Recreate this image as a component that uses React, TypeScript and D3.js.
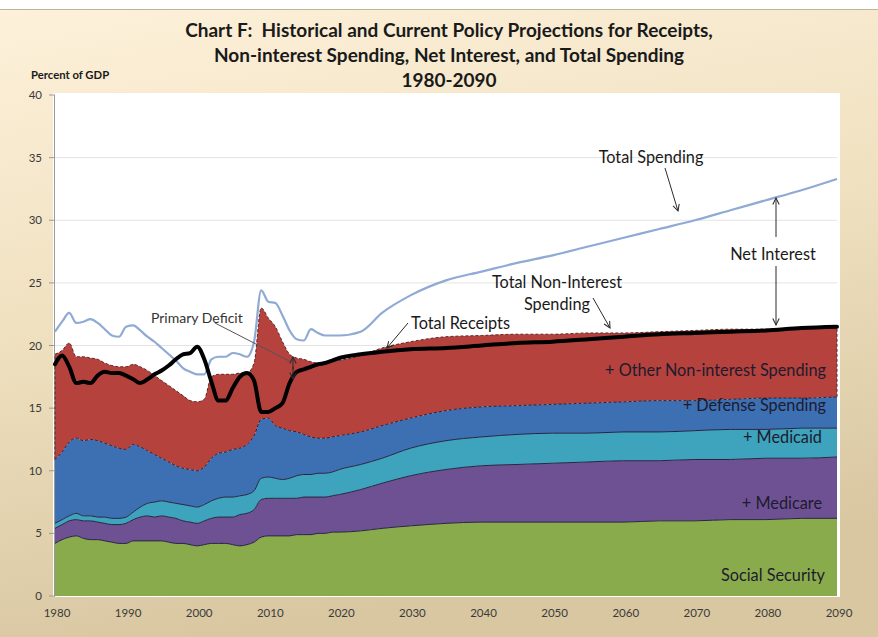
import React from 'react';
import * as d3 from 'd3';

// ---------- data (percent of GDP) ----------
const years = [
  1980, 1981, 1982, 1983, 1984, 1985, 1986, 1987, 1988, 1989,
  1990, 1991, 1992, 1993, 1994, 1995, 1996, 1997, 1998, 1999,
  2000, 2001, 2002, 2003, 2004, 2005, 2006, 2007, 2008, 2009,
  2010, 2011, 2012, 2013, 2014, 2015, 2016, 2017, 2018, 2019,
  2020, 2023, 2026, 2030, 2035, 2040, 2045, 2050, 2055, 2060,
  2065, 2070, 2075, 2080, 2085, 2090,
];
const socialSecurity = [
  4.2, 4.5, 4.7, 4.8, 4.6, 4.5, 4.5, 4.4, 4.3, 4.2,
  4.2, 4.4, 4.4, 4.4, 4.4, 4.4, 4.3, 4.2, 4.2, 4.1,
  4.0, 4.1, 4.2, 4.2, 4.2, 4.1, 4.0, 4.1, 4.3, 4.7,
  4.8, 4.8, 4.8, 4.8, 4.9, 4.9, 4.9, 5.0, 5.0, 5.1,
  5.1, 5.2, 5.4, 5.6, 5.8, 5.9, 5.9, 5.9, 5.9, 5.9,
  6.0, 6.0, 6.1, 6.1, 6.2, 6.2,
];
const medicare = [
  1.2, 1.2, 1.3, 1.3, 1.4, 1.5, 1.4, 1.4, 1.4, 1.5,
  1.6, 1.7, 1.9, 2.0, 1.9, 2.0, 2.0, 2.0, 1.8, 1.8,
  1.8, 1.9, 2.0, 2.1, 2.1, 2.2, 2.5, 2.5, 2.6, 3.0,
  3.0, 3.0, 3.0, 3.0, 2.9, 3.0, 3.0, 2.9, 2.9, 2.9,
  3.0, 3.3, 3.6, 4.0, 4.3, 4.5, 4.6, 4.7, 4.8, 4.9,
  4.8, 4.9, 4.8, 4.9, 4.8, 4.9,
];
const medicaid = [
  0.4, 0.4, 0.4, 0.5, 0.4, 0.4, 0.4, 0.5, 0.5, 0.5,
  0.5, 0.6, 0.8, 1.0, 1.2, 1.2, 1.2, 1.2, 1.3, 1.3,
  1.3, 1.3, 1.4, 1.5, 1.6, 1.6, 1.5, 1.5, 1.5, 1.7,
  1.7, 1.6, 1.5, 1.6, 1.8, 1.8, 1.8, 1.9, 1.9, 1.9,
  2.0, 2.0, 2.0, 2.2, 2.3, 2.3, 2.4, 2.4, 2.3, 2.3,
  2.3, 2.3, 2.4, 2.3, 2.4, 2.3,
];
const defense = [
  5.1, 5.4, 5.9, 6.0, 6.0, 6.1, 6.1, 5.9, 5.8, 5.6,
  5.4, 5.4, 4.8, 4.2, 3.8, 3.4, 3.2, 3.0, 2.9, 2.9,
  2.9, 3.0, 3.4, 3.6, 3.6, 3.8, 3.8, 4.0, 4.4, 4.7,
  4.7, 4.2, 4.1, 3.8, 3.5, 3.2, 3.0, 2.8, 2.8, 2.8,
  2.7, 2.6, 2.6, 2.4, 2.4, 2.4, 2.3, 2.3, 2.4, 2.4,
  2.5, 2.4, 2.4, 2.5, 2.4, 2.5,
];
const otherNonInterest = [
  8.4, 8.1, 7.9, 6.5, 6.7, 6.5, 6.5, 6.4, 6.4, 6.5,
  6.6, 6.4, 6.4, 6.4, 6.3, 6.2, 6.1, 6.0, 5.8, 5.5,
  5.5, 5.4, 6.5, 6.3, 6.2, 6.0, 6.0, 5.7, 5.8, 8.9,
  8.0, 7.9, 6.9, 6.1, 5.9, 6.0, 6.0, 6.0, 6.0, 6.0,
  6.0, 6.1, 6.2, 6.1, 5.9, 5.7, 5.7, 5.6, 5.6, 5.5,
  5.5, 5.6, 5.6, 5.5, 5.6, 5.6,
];
const receipts = [
  18.5, 19.2, 18.3, 17.0, 17.1, 17.0, 17.6, 17.9, 17.8, 17.8,
  17.6, 17.3, 17.0, 17.3, 17.7, 18.0, 18.4, 18.9, 19.3, 19.4,
  19.9, 18.9, 17.1, 15.6, 15.6, 16.6, 17.5, 17.8, 17.2, 14.7,
  14.7, 15.0, 15.4, 17.0, 17.9, 18.1, 18.3, 18.5, 18.6, 18.8,
  19.0, 19.3, 19.5, 19.7, 19.8, 20.0, 20.2, 20.3, 20.5, 20.7,
  20.9, 21.0, 21.1, 21.2, 21.4, 21.5,
];
const totalSpending = [
  21.1, 21.9, 22.6, 21.8, 21.9, 22.1, 21.8, 21.3, 20.8, 20.7,
  21.5, 21.6, 21.2, 20.7, 20.3, 19.8, 19.3, 18.8, 18.2, 17.9,
  17.7, 17.7, 18.9, 19.1, 19.1, 19.4, 19.3, 19.1, 20.3, 24.4,
  23.5, 23.4, 22.4, 21.2, 20.5, 20.4, 21.3, 21.0, 20.8, 20.8,
  20.8, 21.1, 22.6, 24.0, 25.2, 25.9, 26.6, 27.2, 27.9, 28.6,
  29.3, 30.0, 30.8, 31.6, 32.4, 33.3,
];
const yTicks = [0, 5, 10, 15, 20, 25, 30, 35, 40];
const xTicks = [1980, 1990, 2000, 2010, 2020, 2030, 2040, 2050, 2060, 2070, 2080, 2090];
const titleLines = [
  'Chart F:\u00A0 Historical and Current Policy Projections for Receipts,',
  'Non-interest Spending, Net Interest, and Total Spending',
  '1980-2090',
];

const W = 878;
const H = 637;
const FONT = "Lato, 'Open Sans', 'DejaVu Sans', sans-serif";

const layerKeys = ['ss', 'medicare', 'medicaid', 'defense', 'other'];
const layerColors: Record<string, string> = {
  ss: '#8aab4c',
  medicare: '#6e5193',
  medicaid: '#3ea3bc',
  defense: '#3d6fb3',
  other: '#b5423d',
};

export default function App() {
  const x = d3.scaleLinear().domain([1980, 2090]).range([55, 837]);
  const y = d3.scaleLinear().domain([0, 40]).range([596, 95]);

  const rows = years.map((yr, i) => ({
    year: yr,
    ss: socialSecurity[i],
    medicare: medicare[i],
    medicaid: medicaid[i],
    defense: defense[i],
    other: otherNonInterest[i],
  }));
  const series = d3.stack<any>().keys(layerKeys)(rows);
  const curve = d3.curveMonotoneX;
  const area = d3
    .area<any>()
    .x((d) => x(d.data.year))
    .y0((d) => y(d[0]))
    .y1((d) => y(d[1]))
    .curve(curve);
  const topLine = d3
    .line<any>()
    .x((d) => x(d.data.year))
    .y((d) => y(d[1]))
    .curve(curve);
  const line = d3
    .line<number>()
    .x((_, i) => x(years[i]))
    .y((d) => y(d))
    .curve(curve);

  const labelColor = '#1d1b2e';
  const annColor = '#2b2b2b';

  return (
    <svg
      width={W}
      height={H}
      viewBox={`0 0 ${W} ${H}`}
      style={{ position: 'absolute', left: 0, top: 0, fontFamily: FONT }}
    >
      <defs>
        <linearGradient id="bg" x1="0" y1="0" x2="0.25" y2="1">
          <stop offset="0" stopColor="#fdf1da" />
          <stop offset="0.5" stopColor="#efe0bf" />
          <stop offset="1" stopColor="#d8c7a1" />
        </linearGradient>
        <marker
          id="arr"
          viewBox="0 0 10 10"
          refX="9"
          refY="5"
          markerWidth="8"
          markerHeight="8"
          markerUnits="userSpaceOnUse"
          orient="auto"
        >
          <path d="M1,1 L9,5 L1,9" fill="none" stroke={annColor} strokeWidth="1.3" />
        </marker>
      </defs>
      <rect x={0} y={0} width={W} height={H} fill="#ffffff" />
      <rect x={0} y={9} width={W} height={H - 9} fill="url(#bg)" />
      <line x1={0} x2={W} y1={9.5} y2={9.5} stroke="#bdb4a0" strokeWidth={1} />

      {/* title */}
      {titleLines.map((t, i) => (
        <text
          key={i}
          x={449}
          y={37 + i * 25}
          textAnchor="middle"
          fontWeight="bold"
          fontSize={19}
          fill="#1a1a1a"
        >
          {t}
        </text>
      ))}
      <text x={31} y={79} fontWeight="bold" fontSize={11.3} fill="#1a1a1a">
        Percent of GDP
      </text>

      {/* plot area */}
      <rect x={53} y={93} width={787} height={504} fill="#ffffff" />
      {yTicks.map((t) => (
        <g key={t}>
          {t > 0 && t < 40 && (
            <line x1={55} x2={837} y1={y(t)} y2={y(t)} stroke="#e4e4e4" strokeWidth={1} />
          )}
          <line x1={49} x2={55} y1={y(t)} y2={y(t)} stroke="#9a9a9a" strokeWidth={1} />
          <text
            x={42}
            y={y(t)}
            dy="0.35em"
            textAnchor="end"
            fontSize={11.5}
            fill="#3a3a3a"
          >
            {t}
          </text>
        </g>
      ))}
      <line x1={54.5} x2={54.5} y1={95} y2={597} stroke="#9a9a9a" strokeWidth={1} />

      {/* stacked areas */}
      {series.map((s) => (
        <path key={s.key} d={area(s) || ''} fill={layerColors[s.key]} />
      ))}
      {series.map((s) => {
        const dashed = s.key === 'defense' || s.key === 'other';
        return (
          <path
            key={'b' + s.key}
            d={topLine(s) || ''}
            fill="none"
            stroke={s.key === 'other' ? '#5a2a2a' : '#262640'}
            strokeWidth={1}
            strokeDasharray={dashed ? '3,2' : undefined}
          />
        );
      })}
      {/* dashed outline on sides of the red layer */}
      {(() => {
        const red = series[series.length - 1];
        const first = red[0];
        const last = red[red.length - 1];
        return (
          <g stroke="#5a2a2a" strokeWidth={1} strokeDasharray="3,2">
            <line x1={x(first.data.year)} x2={x(first.data.year)} y1={y(first[0])} y2={y(first[1])} />
            <line x1={x(last.data.year)} x2={x(last.data.year)} y1={y(last[0])} y2={y(last[1])} />
          </g>
        );
      })()}

      {/* total spending line */}
      <path d={line(totalSpending) || ''} fill="none" stroke="#8eaad5" strokeWidth={2.2} />
      {/* receipts line */}
      <path
        d={line(receipts) || ''}
        fill="none"
        stroke="#000000"
        strokeWidth={4}
        strokeLinejoin="round"
        strokeLinecap="round"
      />

      {/* x axis labels */}
      {xTicks.map((t) => (
        <text
          key={t}
          x={x(t) + 2}
          y={613}
          dy="0.35em"
          textAnchor="middle"
          fontSize={11.5}
          fill="#3a3a3a"
        >
          {t}
        </text>
      ))}

      {/* band labels */}
      <g fontSize={16.3} fill={labelColor} textAnchor="end">
        <text x={826} y={370} dy="0.35em">+ Other Non-interest Spending</text>
        <text x={826} y={405} dy="0.35em">+ Defense Spending</text>
        <text x={822} y={437} dy="0.35em">+ Medicaid</text>
        <text x={822} y={503} dy="0.35em">+ Medicare</text>
        <text x={825} y={575} dy="0.35em">Social Security</text>
      </g>

      {/* annotations */}
      <g fontSize={16.3} fill="#1a1a1a">
        <text x={651} y={157} dy="0.35em" textAnchor="middle">Total Spending</text>
        <text x={773} y={254} dy="0.35em" textAnchor="middle">Net Interest</text>
        <text x={557} y={282} dy="0.35em" textAnchor="middle">Total Non-Interest</text>
        <text x={557} y={304} dy="0.35em" textAnchor="middle">Spending</text>
        <text x={411} y={323} dy="0.35em">Total Receipts</text>
      </g>
      <text x={151} y={318} dy="0.35em" fontSize={14} fill="#333">
        Primary Deficit
      </text>
      <g stroke={annColor} strokeWidth={1} fill="none">
        <line x1={665} y1={168} x2={678} y2={211} markerEnd="url(#arr)" />
        <line x1={776} y1={237} x2={776} y2={198} markerEnd="url(#arr)" />
        <line x1={776} y1={266} x2={776} y2={325} markerEnd="url(#arr)" />
        <line x1={593} y1={298} x2={610} y2={328} markerEnd="url(#arr)" />
        <line x1={408} y1={323} x2={387} y2={348} markerEnd="url(#arr)" />
        <line x1={215} y1={323} x2={291} y2={362} stroke="#555" />
        <line x1={293} y1={370} x2={293} y2={357} markerEnd="url(#arr)" />
        <line x1={293} y1={366} x2={293} y2={379} markerEnd="url(#arr)" />
      </g>
    </svg>
  );
}
